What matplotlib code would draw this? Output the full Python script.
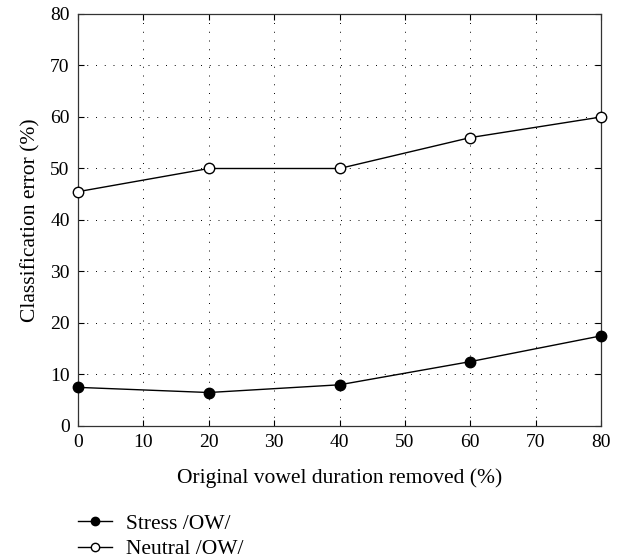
import numpy as np
import matplotlib
matplotlib.use("Agg")
import matplotlib.pyplot as plt

plt.rcParams['font.family'] = ['Liberation Serif', 'DejaVu Serif']

removed = [0, 20, 40, 60, 80]
stress_ow = [7.5, 6.5, 8.0, 12.5, 17.5]
neutral_ow = [45.5, 50.0, 50.0, 56.0, 60.0]

fig = plt.figure(figsize=(6.19, 5.60), dpi=100)
ax = fig.add_axes([0.126, 0.2393, 0.845, 0.7357])

ax.plot(removed, stress_ow, marker='o', color='black', markerfacecolor='black',
        markersize=7.5, linewidth=1, label='Stress /OW/', clip_on=False, zorder=3)
ax.plot(removed, neutral_ow, marker='o', color='black', markerfacecolor='white',
        markersize=7.5, linewidth=1, label='Neutral /OW/', clip_on=False, zorder=3)

ax.set_xlim(0, 80)
ax.set_ylim(0, 80)
ax.set_xticks(np.arange(0, 81, 10))
ax.set_yticks(np.arange(0, 81, 10))
ax.tick_params(direction='in', top=True, right=True, labelsize=14, length=4,
               width=0.8, pad=6)
ax.grid(True, linestyle=(0, (1, 8)), color='black', linewidth=0.7)
for s in ax.spines.values():
    s.set_linewidth(0.9)
    s.set_color('#333333')

ax.set_xlabel('Original vowel duration removed (%)', fontsize=15.5, labelpad=12)
ax.set_ylabel('Classification error (%)', fontsize=15.5, labelpad=7)

fig.legend(loc='center left', bbox_to_anchor=(0.126, 0.042), frameon=False,
           fontsize=15.5, handlelength=1.6, handletextpad=0.65, labelspacing=0.25,
           markerscale=0.8, borderaxespad=0, borderpad=0)

fig.savefig('out.png', dpi=100)
